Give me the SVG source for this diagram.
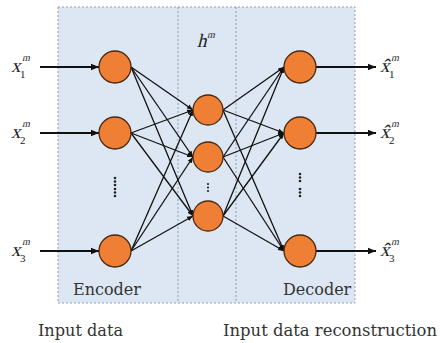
<svg xmlns="http://www.w3.org/2000/svg" width="440" height="343" viewBox="0 0 440 343">
<style>
.bg{fill:#dde7f3;stroke:#8f9db0;stroke-width:1;stroke-dasharray:2,2}
.div{stroke:#8f9db0;stroke-width:1;stroke-dasharray:2,2;fill:none}
.node circle{fill:#ef7f35;stroke:#4a2a12;stroke-width:1.3}
.edge{stroke:#111;stroke-width:1.3;fill:none;marker-end:url(#ah)}
.io{stroke:#111;stroke-width:2;fill:none;marker-end:url(#ahb)}
.math{font-family:"Liberation Serif",serif;fill:#222;font-size:19px}
.sub{font-family:"Liberation Serif",serif;fill:#222;font-size:11px}
.sup{font-family:"Liberation Serif",serif;fill:#222;font-size:10px}
.lbl{font-family:"DejaVu Serif","Liberation Serif",serif;fill:#333;font-size:16px}
.dot{fill:#222}
</style>
<defs>
<marker id="ah" viewBox="0 0 10 10" refX="10" refY="5" markerWidth="6" markerHeight="6" markerUnits="userSpaceOnUse" orient="auto"><path d="M0,1 L10,5 L0,9 z" fill="#111"/></marker>
<marker id="ahb" viewBox="0 0 10 10" refX="10" refY="5" markerWidth="8" markerHeight="8" markerUnits="userSpaceOnUse" orient="auto"><path d="M0,1 L10,5 L0,9 z" fill="#111"/></marker>
</defs>
<g id="background">
<rect class="bg" x="58" y="7" width="297" height="296"/>
<line class="div" x1="178" y1="7" x2="178" y2="303"/>
<line class="div" x1="236" y1="7" x2="236" y2="303"/>
</g>
<g id="connectors">
<line class="io" x1="40" y1="67" x2="99" y2="67"/>
<line class="io" x1="40" y1="133" x2="99" y2="133"/>
<line class="io" x1="40" y1="251" x2="99" y2="251"/>
<line class="edge" x1="131" y1="67" x2="193" y2="110"/>
<line class="edge" x1="131" y1="67" x2="193" y2="157"/>
<line class="edge" x1="131" y1="67" x2="193" y2="216"/>
<line class="edge" x1="131" y1="133" x2="193" y2="110"/>
<line class="edge" x1="131" y1="133" x2="193" y2="157"/>
<line class="edge" x1="131" y1="133" x2="193" y2="216"/>
<line class="edge" x1="131" y1="251" x2="193" y2="110"/>
<line class="edge" x1="131" y1="251" x2="193" y2="157"/>
<line class="edge" x1="131" y1="251" x2="193" y2="216"/>
<line class="edge" x1="223" y1="110" x2="284" y2="67"/>
<line class="edge" x1="223" y1="110" x2="284" y2="133"/>
<line class="edge" x1="223" y1="110" x2="284" y2="251"/>
<line class="edge" x1="223" y1="157" x2="284" y2="67"/>
<line class="edge" x1="223" y1="157" x2="284" y2="133"/>
<line class="edge" x1="223" y1="157" x2="284" y2="251"/>
<line class="edge" x1="223" y1="216" x2="284" y2="67"/>
<line class="edge" x1="223" y1="216" x2="284" y2="133"/>
<line class="edge" x1="223" y1="216" x2="284" y2="251"/>
<line class="io" x1="316" y1="67" x2="376" y2="67"/>
<line class="io" x1="316" y1="133" x2="376" y2="133"/>
<line class="io" x1="316" y1="251" x2="376" y2="251"/>
</g>
<g id="enc1" class="node"><circle cx="115" cy="67" r="16"/></g>
<g id="enc2" class="node"><circle cx="115" cy="133" r="16"/></g>
<g id="enc3" class="node"><circle cx="115" cy="251" r="16"/></g>
<g id="hid1" class="node"><circle cx="208" cy="110" r="15"/></g>
<g id="hid2" class="node"><circle cx="208" cy="157" r="15"/></g>
<g id="hid3" class="node"><circle cx="208" cy="216" r="15"/></g>
<g id="dec1" class="node"><circle cx="300" cy="67" r="16"/></g>
<g id="dec2" class="node"><circle cx="300" cy="133" r="16"/></g>
<g id="dec3" class="node"><circle cx="300" cy="251" r="16"/></g>
<g id="ellipses">
<circle class="dot" cx="115" cy="178" r="1.3"/><circle class="dot" cx="115" cy="181.5" r="1.3"/><circle class="dot" cx="115" cy="185" r="1.3"/>
<circle class="dot" cx="115" cy="189" r="1.3"/><circle class="dot" cx="115" cy="192.5" r="1.3"/><circle class="dot" cx="115" cy="196" r="1.3"/>
<circle class="dot" cx="208" cy="184" r="1.1"/><circle class="dot" cx="208" cy="187.5" r="1.1"/><circle class="dot" cx="208" cy="191" r="1.1"/>
<circle class="dot" cx="300" cy="174" r="1.3"/><circle class="dot" cx="300" cy="177.5" r="1.3"/><circle class="dot" cx="300" cy="181" r="1.3"/>
<circle class="dot" cx="300" cy="189" r="1.3"/><circle class="dot" cx="300" cy="192.5" r="1.3"/><circle class="dot" cx="300" cy="196" r="1.3"/>
</g>
<g id="labels">
<text class="math" transform="translate(11,72) skewX(-14)">x</text><text class="sub" x="20" y="78">1</text><text class="sup" transform="translate(22,61) skewX(-14)">m</text>
<text class="math" transform="translate(11,138) skewX(-14)">x</text><text class="sub" x="20" y="144">2</text><text class="sup" transform="translate(22,127) skewX(-14)">m</text>
<text class="math" transform="translate(11,256) skewX(-14)">x</text><text class="sub" x="20" y="262">3</text><text class="sup" transform="translate(22,245) skewX(-14)">m</text>
<text class="math" transform="translate(380,72) skewX(-14)">x̂</text><text class="sub" x="389" y="78">1</text><text class="sup" transform="translate(391,61) skewX(-14)">m</text>
<text class="math" transform="translate(380,138) skewX(-14)">x̂</text><text class="sub" x="389" y="144">2</text><text class="sup" transform="translate(391,127) skewX(-14)">m</text>
<text class="math" transform="translate(380,256) skewX(-14)">x̂</text><text class="sub" x="389" y="262">3</text><text class="sup" transform="translate(391,245) skewX(-14)">m</text>
<text class="math" transform="translate(197,47) skewX(-14)">h</text><text class="sup" transform="translate(207,38) skewX(-14)">m</text>
<text class="lbl" x="73" y="295">Encoder</text>
<text class="lbl" x="283" y="295">Decoder</text>
<text class="lbl" x="38" y="336" textLength="85" lengthAdjust="spacingAndGlyphs">Input data</text>
<text class="lbl" x="223" y="336" textLength="214" lengthAdjust="spacingAndGlyphs">Input data reconstruction</text>
</g>
</svg>
